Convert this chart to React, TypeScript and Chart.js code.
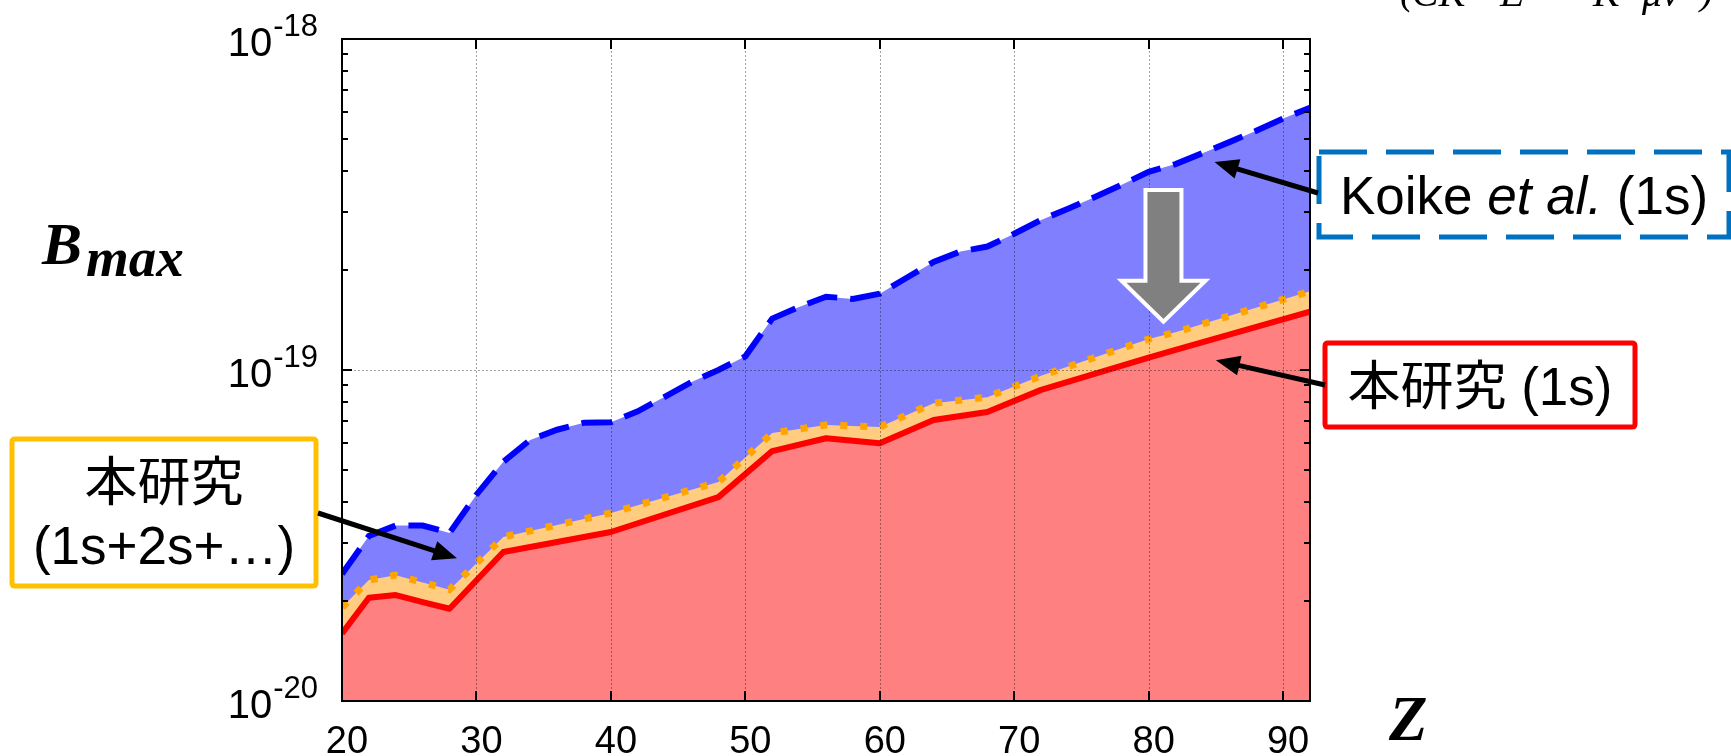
import React, { useEffect, useRef } from "react";
import { Chart, registerables } from "chart.js";

Chart.register(...registerables);

const W = 1731;
const H = 756;

// Koike et al. (1s) upper bound, sampled every 2 in Z
const zKoike = [20, 22, 24, 26, 28, 30, 32, 34, 36, 38, 40, 42, 44, 46, 48, 50, 52, 54, 56, 58, 60, 62, 64, 66, 68, 70, 72, 74, 76, 78, 80, 82, 84, 86, 88, 90, 92];
const bKoike = [
  2.42e-20, 3.15e-20, 3.39e-20, 3.39e-20, 3.22e-20, 4.2e-20, 5.28e-20, 6.15e-20, 6.6e-20, 6.93e-20,
  6.95e-20, 7.5e-20, 8.3e-20, 9.2e-20, 1.0e-19, 1.1e-19, 1.43e-19, 1.55e-19, 1.665e-19, 1.64e-19,
  1.7e-19, 1.9e-19, 2.12e-19, 2.28e-19, 2.36e-19, 2.58e-19, 2.84e-19, 3.07e-19, 3.33e-19, 3.63e-19,
  3.97e-19, 4.19e-19, 4.52e-19, 4.88e-19, 5.28e-19, 5.75e-19, 6.2e-19,
];

// This work: 1s only, and summed over 1s+2s+...
const zThisWork = [20, 22, 24, 26, 28, 32, 40, 48, 52, 56, 60, 64, 68, 72, 80, 82, 92];
const b1s = [
  1.6e-20, 2.05e-20, 2.09e-20, 1.99e-20, 1.9e-20, 2.82e-20, 3.24e-20, 4.13e-20, 5.69e-20,
  6.22e-20, 6.01e-20, 7.06e-20, 7.47e-20, 8.71e-20, 1.09e-19, 1.15e-19, 1.5e-19,
];
const bAllShells = [
  1.92e-20, 2.32e-20, 2.4e-20, 2.28e-20, 2.17e-20, 3.13e-20, 3.7e-20, 4.59e-20, 6.45e-20,
  6.82e-20, 6.73e-20, 7.94e-20, 8.28e-20, 9.6e-20, 1.24e-19, 1.3e-19, 1.73e-19,
];

const xTicks = [20, 30, 40, 50, 60, 70, 80, 90];
const yDecades = [1e-20, 1e-19, 1e-18];
const yExponents = ["-20", "-19", "-18"];

const SANS = '"Liberation Sans", Arial, "Noto Sans CJK JP", sans-serif';
const SERIF = '"Liberation Serif", "Times New Roman", serif';

const pts = (xs: number[], ys: number[]) => xs.map((x, i) => ({ x, y: ys[i] }));

function arrow(ctx: CanvasRenderingContext2D, x0: number, y0: number, x1: number, y1: number) {
  const ang = Math.atan2(y1 - y0, x1 - x0);
  const hl = 24;
  const hw = 10;
  const c = Math.cos(ang);
  const s = Math.sin(ang);
  const bx = x1 - hl * c;
  const by = y1 - hl * s;
  ctx.strokeStyle = "#000";
  ctx.fillStyle = "#000";
  ctx.lineWidth = 5;
  ctx.lineCap = "butt";
  ctx.setLineDash([]);
  ctx.beginPath();
  ctx.moveTo(x0, y0);
  ctx.lineTo(bx + 3 * c, by + 3 * s);
  ctx.stroke();
  ctx.beginPath();
  ctx.moveTo(x1, y1);
  ctx.lineTo(bx + hw * s, by - hw * c);
  ctx.lineTo(bx - hw * s, by + hw * c);
  ctx.closePath();
  ctx.fill();
}

function roundRect(ctx: CanvasRenderingContext2D, x: number, y: number, w: number, h: number, r: number) {
  ctx.beginPath();
  ctx.moveTo(x + r, y);
  ctx.lineTo(x + w - r, y);
  ctx.quadraticCurveTo(x + w, y, x + w, y + r);
  ctx.lineTo(x + w, y + h - r);
  ctx.quadraticCurveTo(x + w, y + h, x + w - r, y + h);
  ctx.lineTo(x + r, y + h);
  ctx.quadraticCurveTo(x, y + h, x, y + h - r);
  ctx.lineTo(x, y + r);
  ctx.quadraticCurveTo(x, y, x + r, y);
  ctx.closePath();
}

// Frame, dotted grid, inward ticks, tick labels and axis symbols
const axesLayer = {
  id: "axesLayer",
  afterDatasetsDraw(chart: any) {
    const { ctx, chartArea: a, scales } = chart;
    const xs = scales.x;
    const ys = scales.y;
    ctx.save();

    ctx.strokeStyle = "rgba(0,0,0,0.36)";
    ctx.lineWidth = 1;
    ctx.setLineDash([2, 2]);
    for (const v of xTicks) {
      if (v <= xs.min || v >= xs.max) continue;
      const px = Math.round(xs.getPixelForValue(v)) + 0.5;
      ctx.beginPath();
      ctx.moveTo(px, a.top);
      ctx.lineTo(px, a.bottom);
      ctx.stroke();
    }
    for (const v of yDecades) {
      if (v <= ys.min || v >= ys.max) continue;
      const py = Math.round(ys.getPixelForValue(v)) + 0.5;
      ctx.beginPath();
      ctx.moveTo(a.left, py);
      ctx.lineTo(a.right, py);
      ctx.stroke();
    }
    ctx.setLineDash([]);

    ctx.strokeStyle = "#000";
    ctx.lineWidth = 2;
    for (const v of xTicks) {
      if (v <= xs.min || v >= xs.max) continue;
      const px = Math.round(xs.getPixelForValue(v));
      ctx.beginPath();
      ctx.moveTo(px, a.bottom);
      ctx.lineTo(px, a.bottom - 10);
      ctx.moveTo(px, a.top);
      ctx.lineTo(px, a.top + 10);
      ctx.stroke();
    }
    for (let d = 0; d < yDecades.length - 1; d++) {
      for (let m = 1; m <= 9; m++) {
        const v = yDecades[d] * m;
        if (v <= ys.min) continue;
        const py = Math.round(ys.getPixelForValue(v));
        const len = m === 1 ? 10 : 6;
        ctx.beginPath();
        ctx.moveTo(a.left, py);
        ctx.lineTo(a.left + len, py);
        ctx.moveTo(a.right, py);
        ctx.lineTo(a.right - len, py);
        ctx.stroke();
      }
    }
    ctx.strokeRect(a.left, a.top, a.right - a.left, a.bottom - a.top);

    ctx.fillStyle = "#000";
    ctx.textBaseline = "alphabetic";
    ctx.font = `38px ${SANS}`;
    ctx.textAlign = "center";
    for (const v of xTicks) {
      ctx.fillText(String(v), xs.getPixelForValue(v) + 5, a.bottom + 52);
    }
    yDecades.forEach((v, i) => {
      const py = ys.getPixelForValue(v);
      ctx.font = `31px ${SANS}`;
      ctx.textAlign = "right";
      const right = a.left - 24;
      const w = ctx.measureText(yExponents[i]).width;
      ctx.fillText(yExponents[i], right, py - 3);
      ctx.font = `40px ${SANS}`;
      ctx.fillText("10", right - w - 1, py + 17);
    });

    ctx.textAlign = "left";
    ctx.font = `bold italic 60px ${SERIF}`;
    ctx.fillText("B", 42, 264);
    ctx.font = `bold italic 55px ${SERIF}`;
    ctx.fillText("max", 86, 276);
    ctx.font = `bold italic 63px ${SERIF}`;
    ctx.fillText("Z", 1389, 740);

    ctx.restore();
  },
};

// Callout boxes, pointers and the shift arrow
const calloutLayer = {
  id: "calloutLayer",
  afterDraw(chart: any) {
    const { ctx, scales } = chart;
    const xs = scales.x;
    const ys = scales.y;
    const P = (z: number, b: number) => [xs.getPixelForValue(z), ys.getPixelForValue(b)];
    ctx.save();

    // unit line running off the top edge
    ctx.fillStyle = "#000";
    ctx.font = `italic 40px ${SERIF}`;
    ctx.textAlign = "left";
    ctx.textBaseline = "alphabetic";
    ctx.fillText("(", 1400, 4);
    ctx.fillText("CK", 1412, 6);
    ctx.fillText("E", 1500, 6);
    ctx.fillText("·", 1568, 6);
    ctx.fillText("K", 1593, 6);
    ctx.fillText("μν", 1642, 6);
    ctx.fillText(")", 1700, 4);

    const FONT = `53px ${SANS}`;

    // gold box: 1s+2s+...
    ctx.fillStyle = "#fff";
    roundRect(ctx, 12, 439, 304, 147, 3);
    ctx.fill();
    ctx.strokeStyle = "#FFC000";
    ctx.lineWidth = 5;
    ctx.stroke();
    ctx.fillStyle = "#000";
    ctx.textAlign = "center";
    ctx.font = FONT;
    ctx.fillText("本研究", 164, 501);
    ctx.fillText("(1s+2s+…)", 164, 564);
    {
      const [tx, ty] = P(28.55, 2.7e-20);
      arrow(ctx, 318, 513, tx, ty);
    }

    // dashed blue box: Koike et al.
    ctx.fillStyle = "#fff";
    ctx.fillRect(1319, 152, 410, 85);
    ctx.strokeStyle = "#0070C0";
    ctx.lineWidth = 5;
    ctx.setLineDash([48, 19]);
    ctx.strokeRect(1319, 152, 410, 85);
    ctx.setLineDash([]);
    ctx.fillStyle = "#000";
    ctx.textAlign = "left";
    const parts: [string, string][] = [
      ["Koike ", FONT],
      ["et al.", `italic 53px ${SANS}`],
      [" (1s)", FONT],
    ];
    let total = 0;
    for (const [t, f] of parts) {
      ctx.font = f;
      total += ctx.measureText(t).width;
    }
    let cx = 1524 - total / 2;
    for (const [t, f] of parts) {
      ctx.font = f;
      ctx.fillText(t, cx, 214);
      cx += ctx.measureText(t).width;
    }
    {
      const [tx, ty] = P(84.9, 4.25e-19);
      arrow(ctx, 1318, 193, tx, ty);
    }

    // red box: 1s
    ctx.fillStyle = "#fff";
    roundRect(ctx, 1325, 343, 310, 84, 3);
    ctx.fill();
    ctx.strokeStyle = "#FF0000";
    ctx.lineWidth = 5;
    ctx.stroke();
    ctx.fillStyle = "#000";
    ctx.textAlign = "center";
    ctx.font = FONT;
    ctx.fillText("本研究 (1s)", 1480, 405);
    {
      const [tx, ty] = P(85.0, 1.07e-19);
      arrow(ctx, 1325, 385, tx, ty);
    }

    // grey block arrow from the Koike curve down to this work
    {
      const [mx, top] = P(81.1, 3.5e-19);
      const [, tip] = P(81.1, 1.4e-19);
      const headY = tip - 41;
      ctx.beginPath();
      ctx.moveTo(mx - 18, top);
      ctx.lineTo(mx + 18, top);
      ctx.lineTo(mx + 18, headY);
      ctx.lineTo(mx + 42, headY);
      ctx.lineTo(mx, tip);
      ctx.lineTo(mx - 42, headY);
      ctx.lineTo(mx - 18, headY);
      ctx.closePath();
      ctx.fillStyle = "#808080";
      ctx.fill();
      ctx.strokeStyle = "#fff";
      ctx.lineWidth = 4;
      ctx.lineJoin = "miter";
      ctx.stroke();
    }

    ctx.restore();
  },
};

export default function App() {
  const ref = useRef<HTMLCanvasElement>(null);

  useEffect(() => {
    if (!ref.current) return;
    const chart = new Chart(ref.current, {
      type: "line",
      data: {
        datasets: [
          {
            label: "本研究 (1s)",
            data: pts(zThisWork, b1s),
            order: 0,
            fill: "start",
            backgroundColor: "#FF8080",
            borderColor: "#FF0000",
            borderWidth: 6,
            borderJoinStyle: "round",
            pointRadius: 0,
            tension: 0,
            clip: 0,
          },
          {
            label: "本研究 (1s+2s+…)",
            data: pts(zThisWork, bAllShells),
            order: 1,
            fill: "start",
            backgroundColor: "#FFCC80",
            borderColor: "#FFA500",
            borderWidth: 7,
            borderDash: [7, 13],
            borderCapStyle: "butt",
            pointRadius: 0,
            tension: 0,
            clip: 0,
          },
          {
            label: "Koike et al. (1s)",
            data: pts(zKoike, bKoike),
            order: 2,
            fill: "start",
            backgroundColor: "#8080FF",
            borderColor: "#0000FF",
            borderWidth: 6,
            borderDash: [31, 13],
            borderCapStyle: "butt",
            pointRadius: 0,
            tension: 0,
            clip: 0,
          },
        ],
      },
      options: {
        animation: false,
        responsive: false,
        devicePixelRatio: 1,
        events: [],
        layout: { padding: { left: 342, top: 39, right: W - 1310, bottom: H - 701 } },
        plugins: {
          legend: { display: false },
          tooltip: { enabled: false },
          title: { display: false },
        },
        scales: {
          x: { type: "linear", min: 20, max: 92, display: false },
          y: { type: "logarithmic", min: 1e-20, max: 1e-18, display: false },
        },
      },
      plugins: [axesLayer, calloutLayer],
    } as any);
    return () => chart.destroy();
  }, []);

  return (
    <div style={{ position: "fixed", left: 0, top: 0, width: W, height: H, background: "#fff" }}>
      <canvas ref={ref} width={W} height={H} style={{ display: "block", width: W, height: H }} />
    </div>
  );
}
